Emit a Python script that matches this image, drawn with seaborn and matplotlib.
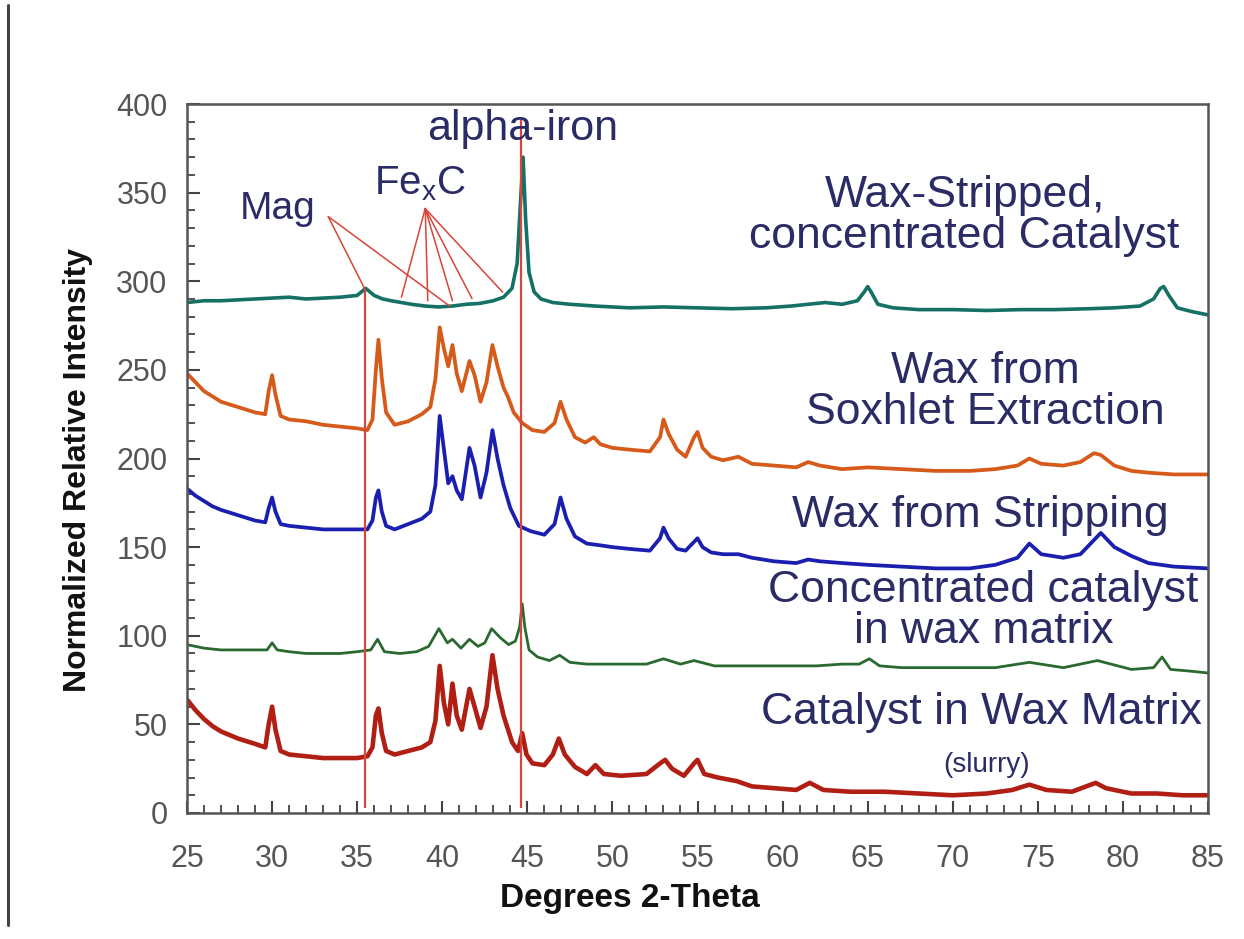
import numpy as np
import pandas as pd
import matplotlib
matplotlib.use("Agg")
import matplotlib.pyplot as plt
from matplotlib.lines import Line2D
from matplotlib.ticker import MultipleLocator
import seaborn as sns

# ---- XRD patterns (2-theta in degrees, normalized intensity) ----
stripped_tt = [25, 26, 27, 28, 29, 30, 31, 32, 33, 34, 35, 35.5, 36.0, 36.5, 37, 37.6, 38.2, 39, 39.8, 40.6,
               41.4, 42.2, 43, 43.6, 44.1, 44.4, 44.6, 44.75, 44.9, 45.1, 45.4, 45.8, 46.5, 47.5, 49, 51, 53, 55,
               57, 59, 60.5, 61.5, 62.5, 63.5, 64.4, 64.8, 65.0, 65.2, 65.6, 66.5, 68, 70, 72, 74, 76, 78, 79.5,
               81, 81.8, 82.2, 82.4, 82.7, 83.2, 84, 85]
stripped_int = [288, 289, 289, 289.5, 290, 290.5, 291, 290, 290.5, 291, 292, 296, 292, 290, 289, 288, 287, 286,
                285.5, 286, 287, 287.5, 289, 291, 296, 310, 345, 370, 335, 305, 294, 290, 288, 287, 286, 285,
                285.5, 285, 284.5, 285, 286, 287, 288, 287, 289, 294, 297, 294, 287, 285, 284, 284, 283.5, 284,
                284, 284.5, 285, 286, 290, 296, 297, 292, 285, 283, 281]

soxhlet_tt = [25, 25.5, 26, 26.5, 27, 28, 29, 29.6, 29.8, 30.0, 30.2, 30.5, 31, 32, 33, 34, 35, 35.6, 35.9, 36.1,
              36.25, 36.45, 36.7, 37.2, 38, 38.8, 39.3, 39.6, 39.85, 40.1, 40.35, 40.6, 40.85, 41.15, 41.6, 41.9,
              42.25, 42.6, 42.95, 43.25, 43.6, 43.85, 44.2, 44.7, 45.3, 46, 46.6, 46.95, 47.3, 47.8, 48.4, 48.9,
              49.3, 50, 51, 52.2, 52.8, 53.0, 53.3, 53.8, 54.3, 54.8, 55.0, 55.3, 55.8, 56.5, 57.4, 58.2, 59.5,
              60.8, 61.5, 62.2, 63.5, 65, 67, 69, 71, 72.5, 73.8, 74.5, 75.2, 76.5, 77.5, 78.3, 78.7, 79.5, 80.5,
              81.5, 83, 85]
soxhlet_int = [248, 243, 238, 235, 232, 229, 226, 225, 238, 247, 236, 224, 222, 221, 219, 218, 217, 216, 222, 250,
               267, 245, 226, 219, 221, 225, 229, 245, 274, 262, 252, 264, 248, 238, 255, 247, 232, 243, 264, 252,
               240, 235, 226, 220, 216, 215, 220, 232, 222, 212, 209, 212, 208, 206, 205, 204, 212, 222, 214, 205,
               201, 212, 215, 206, 201, 199, 201, 197, 196, 195, 198, 196, 194, 195, 194, 193, 193, 194, 196, 200,
               197, 196, 198, 203, 202, 196, 193, 192, 191, 191]

stripping_tt = [25, 25.5, 26, 26.5, 27, 28, 29, 29.6, 29.8, 30.0, 30.2, 30.5, 31, 32, 33, 34, 35, 35.6, 35.9, 36.1,
                36.25, 36.45, 36.7, 37.2, 38, 38.8, 39.3, 39.6, 39.85, 40.1, 40.35, 40.6, 40.85, 41.15, 41.6, 41.9,
                42.25, 42.6, 42.95, 43.25, 43.6, 44, 44.5, 45.2, 46, 46.6, 46.95, 47.3, 47.8, 48.5, 49.3, 50, 51,
                52.2, 52.8, 53.0, 53.3, 53.8, 54.3, 54.8, 55.0, 55.3, 55.8, 56.5, 57.4, 58.2, 59.5, 60.8, 61.5,
                62.2, 63.5, 65, 67, 69, 71, 72.5, 73.8, 74.5, 75.2, 76.5, 77.5, 78.3, 78.7, 79.5, 80.5, 81.5, 83, 85]
stripping_int = [183, 179, 176, 173, 171, 168, 165, 164, 172, 178, 170, 163, 162, 161, 160, 160, 160, 160, 165, 178,
                 182, 170, 162, 160, 163, 166, 170, 185, 224, 205, 186, 190, 182, 177, 206, 196, 178, 192, 216, 200,
                 185, 172, 162, 159, 157, 163, 178, 166, 156, 152, 151, 150, 149, 148, 155, 161, 155, 149, 148, 153,
                 155, 150, 147, 146, 146, 144, 142, 141, 143, 142, 141, 140, 139, 138, 138, 140, 144, 152, 146, 144,
                 146, 154, 158, 150, 145, 141, 139, 138]

concwax_tt = [25, 26, 27, 28, 29, 29.7, 30.0, 30.3, 31, 32, 33, 34, 35, 35.8, 36.2, 36.6, 37.5, 38.5, 39.2, 39.8,
              40.3, 40.6, 41.1, 41.6, 42.1, 42.5, 42.9, 43.4, 43.9, 44.3, 44.55, 44.7, 44.85, 45.1, 45.6, 46.3,
              46.9, 47.5, 48.5, 50, 52, 53, 54, 54.8, 56, 58, 60, 62, 63.5, 64.5, 65.1, 65.7, 67, 70, 72.5, 74.5,
              76.5, 78.5, 80.5, 81.8, 82.3, 82.8, 84, 85]
concwax_int = [95, 93, 92, 92, 92, 92, 96, 92, 91, 90, 90, 90, 91, 92, 98, 91, 90, 91, 94, 104, 96, 98, 93, 98, 94,
               96, 104, 99, 95, 97, 105, 118, 105, 92, 88, 86, 89, 85, 84, 84, 84, 87, 84, 86, 83, 83, 83, 83, 84,
               84, 87, 83, 82, 82, 82, 85, 82, 86, 81, 82, 88, 81, 80, 79]

slurry_tt = [25, 25.5, 26, 26.5, 27, 28, 29, 29.6, 29.8, 30.0, 30.2, 30.5, 31, 32, 33, 34, 35, 35.6, 35.9, 36.1,
             36.25, 36.45, 36.7, 37.2, 38, 38.8, 39.3, 39.6, 39.85, 40.1, 40.35, 40.6, 40.85, 41.15, 41.6, 41.9,
             42.25, 42.6, 42.95, 43.25, 43.6, 44.1, 44.45, 44.7, 44.95, 45.3, 46, 46.5, 46.85, 47.2, 47.8, 48.5,
             49, 49.5, 50.5, 52, 52.8, 53.1, 53.5, 54.2, 54.8, 55.0, 55.4, 56.2, 57.3, 58.2, 59.5, 60.8, 61.6,
             62.4, 64, 66, 68, 70, 72, 73.5, 74.5, 75.5, 77, 78.4, 79, 80.5, 82, 83.5, 85]
slurry_int = [64, 58, 53, 49, 46, 42, 39, 37, 50, 60, 47, 35, 33, 32, 31, 31, 31, 32, 37, 55, 59, 45, 35, 33, 35,
              37, 40, 52, 83, 62, 50, 73, 55, 47, 70, 60, 48, 60, 89, 70, 55, 40, 35, 45, 33, 28, 27, 33, 42, 33,
              26, 22, 27, 22, 21, 22, 28, 30, 25, 21, 28, 30, 22, 20, 18, 15, 14, 13, 17, 13, 12, 12, 11, 10, 11,
              13, 16, 13, 12, 17, 14, 11, 11, 10, 10]

# Reflection markers
mag_peaks = [35.45, 40.45]
fexc_peaks = [37.6, 39.15, 40.6, 41.75, 43.55]
alpha_iron = 44.65

x_ticks = list(range(25, 90, 5))
y_ticks = list(range(0, 450, 50))

# ---- styling ----
sns.set_theme(style="ticks")
plt.rcParams["font.family"] = ["Liberation Sans", "DejaVu Sans"]
plt.rcParams["mathtext.fontset"] = "custom"
plt.rcParams["mathtext.rm"] = "Liberation Sans"
plt.rcParams["mathtext.it"] = "Liberation Sans"

text_col = "#2b2b66"
mark_col = "#d8453a"

fig = plt.figure(figsize=(12.44, 9.39), dpi=100)
W, H = 1244, 939
ax = fig.add_axes([187 / W, 1 - 813 / H, (1208 - 187) / W, (813 - 104) / H])

traces = [
    (slurry_tt, slurry_int, "#b01e14", 3.3),
    (concwax_tt, concwax_int, "#2a6a30", 2.0),
    (stripping_tt, stripping_int, "#1a1fb0", 2.7),
    (soxhlet_tt, soxhlet_int, "#d65a1a", 2.7),
    (stripped_tt, stripped_int, "#157065", 2.6),
]
for tt, inten, col, lw in traces:
    df = pd.DataFrame({"two_theta": tt, "intensity": inten})
    sns.lineplot(data=df, x="two_theta", y="intensity", color=col, lw=lw,
                 estimator=None, sort=False, ax=ax, zorder=2)

# vertical reference lines for magnetite and alpha-iron
mag_top = np.interp(mag_peaks[0], stripped_tt, stripped_int)
ax.vlines(mag_peaks[0], 3, mag_top, color=mark_col, lw=1.6, zorder=3)
ax.vlines(alpha_iron, 3, 391, color=mark_col, lw=1.6, zorder=3)

# leader lines from the phase labels to the stripped-catalyst pattern
mag_origin = (33.3, 336.5)
for p in mag_peaks:
    ax.plot([mag_origin[0], p], [mag_origin[1], np.interp(p, stripped_tt, stripped_int)],
            color=mark_col, lw=1.1, zorder=3)
fexc_origin = (39.0, 341.0)
for p in fexc_peaks:
    ax.plot([fexc_origin[0], p], [fexc_origin[1], np.interp(p, stripped_tt, stripped_int) + 3],
            color=mark_col, lw=1.1, zorder=3)

# phase labels
ax.text(30.35, 340.5, "Mag", color=text_col, fontsize=28, ha="center", va="center")
ax.text(38.7, 355, r"Fe$_\mathregular{x}$C", color=text_col, fontsize=29, ha="center", va="center")
ax.text(44.7, 386, "alpha-iron", color=text_col, fontsize=31, ha="center", va="center")

# sample labels
lab = dict(color=text_col, fontsize=32, ha="center", va="center", linespacing=1.0)
ax.text(70.7, 337, "Wax-Stripped,\nconcentrated Catalyst", **lab)
ax.text(71.9, 237.5, "Wax from\nSoxhlet Extraction", **lab)
ax.text(71.6, 168, "Wax from Stripping", **lab)
ax.text(71.8, 114, "Concentrated catalyst\nin wax matrix", **lab)
ax.text(71.7, 56.5, "Catalyst in Wax Matrix", **lab)
ax.text(72.0, 27, "(slurry)", color=text_col, fontsize=20, ha="center", va="center")

# axes, ticks and labels
ax.set_xlim(25, 85)
ax.set_ylim(0, 400)
ax.set_xticks(x_ticks)
ax.set_yticks(y_ticks)
ax.xaxis.set_minor_locator(MultipleLocator(1))
ax.yaxis.set_minor_locator(MultipleLocator(10))
ax.tick_params(which="both", bottom=True, left=True, top=False, right=False, direction="in")
ax.tick_params(which="major", length=9, width=1.5, color="#444",
               labelsize=22, labelcolor="#555")
ax.tick_params(which="minor", length=6, width=1.3, color="#444")
ax.tick_params(axis="x", which="major", pad=22)
ax.tick_params(axis="y", which="major", pad=14)
for s in ax.spines.values():
    s.set_visible(True)
    s.set_color("#555")
    s.set_linewidth(1.8)

ax.set_xlabel("Degrees 2-Theta", fontsize=24, fontweight="bold", color="#111")
ax.set_ylabel("Normalized Relative Intensity", fontsize=23, fontweight="bold", color="#111")
ax.xaxis.set_label_coords((630 - 187) / 1021, (813 - 898) / 709)
ax.yaxis.set_label_coords((78 - 187) / 1021, (813 - 470) / 709)
ax.xaxis.label.set_va("center")
ax.yaxis.label.set_va("center")

# page edge rule on the left
fig.add_artist(Line2D([8 / W, 8 / W], [1 - 5 / H, 1 - 925 / H], color="#444", lw=2.2,
                      transform=fig.transFigure))

fig.savefig("out.png", dpi=100)
